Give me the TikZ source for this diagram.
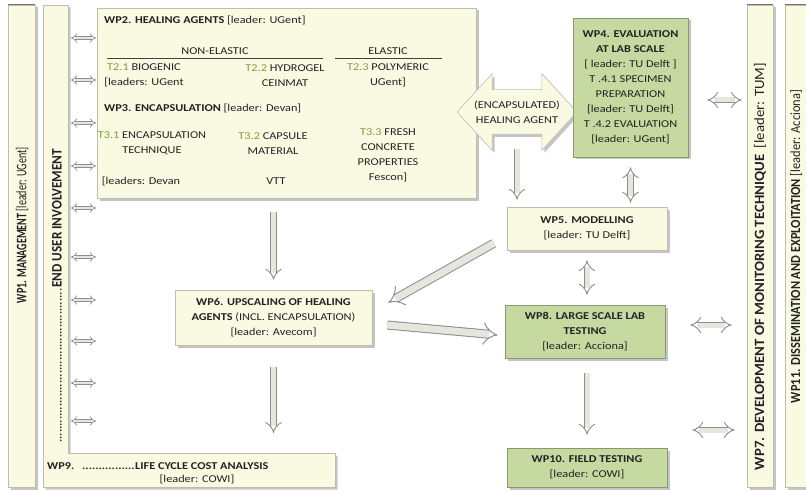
\documentclass[tikz,border=0pt]{standalone}
\usepackage{fontspec}
\usepackage{graphicx}
\setmainfont{Carlito}[FakeStretch=1.17]
\usetikzlibrary{arrows.meta,shapes.arrows,shadows}
\definecolor{cream}{HTML}{FAFAE3}
\definecolor{lgreen}{HTML}{C6D9A0}
\definecolor{tgreen}{HTML}{7E9E43}
\definecolor{boxedge}{HTML}{BDBDB0}
\definecolor{arredge}{HTML}{8E8E8A}
\definecolor{arrfill}{HTML}{E6E6DF}
\definecolor{txt}{HTML}{222222}
\begin{document}
\begin{tikzpicture}[x=1pt,y=-1pt,
  every node/.style={text=txt, font=\fontsize{10.5}{15}\selectfont},
  shad/.style={drop shadow={shadow xshift=2.5pt,shadow yshift=-2.5pt,fill=black!45}},
  box/.style={draw=boxedge, fill=cream, line width=0.6pt, shad, align=center, inner sep=0pt},
  gbox/.style={box, fill=lgreen, draw=lgreen!70!black},
  bar/.style={draw=boxedge, fill=cream, line width=0.6pt, shad},
  vlab/.style={rotate=90, inner sep=0pt},
  col/.style={align=center, inner sep=0pt},
  fat/.style={draw=arredge, double=arrfill, line width=0.9pt, double distance=5pt, -{Implies}},
  fatboth/.style={fat, {Implies}-{Implies}},
  thin/.style={draw=arredge, double=arrfill, line width=0.7pt, double distance=2.5pt, {Implies}-{Implies}},
  wide/.style={draw=arredge, double=arrfill, line width=1pt, double distance=7pt, -{Implies}},
]
\useasboundingbox (0,0) rectangle (806,492);

% ---- vertical bars ----
\node[bar, minimum width=27, minimum height=482, inner sep=0pt] (wp1) at (21.5,246) {};
\draw[line width=1.6pt, black!55] (wp1.north west) -- (wp1.north east);
\node[vlab] (wp1t) at (22,225) {\resizebox{156pt}{10.5pt}{\textbf{WP1. MANAGEMENT} [leader: UGent]}};

\path[bar] (43,5) -- (68,5) -- (68,453) -- (335,453) -- (335,487) -- (43,487) -- cycle;
\coordinate (wp9top) at (189,453);
\node[vlab, anchor=south west] (eui) at (62,443) {\hbox to 155pt{\leaders\hbox{\bfseries.}\hfill}\resizebox{139pt}{9.5pt}{\textbf{END USER INVOLVEMENT}}};
\node[anchor=west, inner sep=0pt] (wp9a) at (47,466) {\textbf{WP9.}};
\node[anchor=west, inner sep=0pt] (wp9b) at (82,466) {\hbox to 53pt{\leaders\hbox{\bfseries.}\hfill}\textbf{LIFE CYCLE COST ANALYSIS}};
\node[inner sep=0pt] (wp9c) at (197,479) {[leader: COWI]};

\node[bar, minimum width=26, minimum height=482, inner sep=0pt] (wp7) at (760,246) {};
\draw[line width=1.6pt, black!55] (wp7.north west) -- (wp7.north east);
\node[vlab] (wp7t) at (760,266.5) {\resizebox{407pt}{10.2pt}{\textbf{WP7. DEVELOPMENT OF MONITORING TECHNIQUE}\ \ [leader: TUM]}};

\node[bar, minimum width=21, minimum height=482, inner sep=0pt] (wp11) at (795.5,246) {};
\draw[line width=1.6pt, black!55] (wp11.north west) -- (wp11.north east);
\node[vlab] (wp11t) at (796,246.5) {\resizebox{313pt}{10pt}{\textbf{WP11. DISSEMINATION AND EXPLOITATION} [leader: Acciona]}};

% ---- WP2 / WP3 box ----
\node[box, minimum width=379, minimum height=190] (wp23) at (286.5,103) {};
\node[anchor=west, inner sep=0pt] (wp2t) at (104,20) {\textbf{WP2. HEALING AGENTS} [leader: UGent]};
\node[inner sep=0pt] (nel) at (215,51) {NON-ELASTIC};
\node[inner sep=0pt] (el) at (388,51) {ELASTIC};
\draw[black!75, line width=0.8pt] (107,58) -- (323,58);
\draw[black!75, line width=0.8pt] (335,58) -- (442,58);
\node[col] (t21) at (144,75.5) {\textcolor{tgreen}{T2.1} BIOGENIC\\{[}leaders: UGent};
\node[col] (t22) at (285,75.5) {\textcolor{tgreen}{T2.2} HYDROGEL\\CEINMAT};
\node[col] (t23) at (388,75.5) {\textcolor{tgreen}{T2.3} POLYMERIC\\UGent]};
\node[anchor=west, inner sep=0pt] (wp3t) at (104,108) {\textbf{WP3. ENCAPSULATION} [leader: Devan]};
\node[col] (t31) at (152,143.5) {\textcolor{tgreen}{T3.1} ENCAPSULATION\\TECHNIQUE};
\node[inner sep=0pt] (t31l) at (141,181) {[leaders: Devan};
\node[col] (t32) at (273,143.5) {\textcolor{tgreen}{T3.2} CAPSULE\\MATERIAL};
\node[inner sep=0pt] (t32l) at (276,181) {VTT};
\node[col] (t33) at (388,155) {\textcolor{tgreen}{T3.3} FRESH\\CONCRETE\\PROPERTIES\\Fescon]};

% ---- encapsulated healing agent arrow ----
\node[double arrow, draw=boxedge, fill=cream, line width=0.6pt, shad,
      double arrow head extend=16pt, double arrow tip angle=95,
      minimum height=120, inner xsep=0pt, inner ysep=22pt] (enc) at (517,112) {};
\node[col] (enct) at (517,112) {(ENCAPSULATED)\\HEALING AGENT};

% ---- green / cream boxes ----
\node[gbox, minimum width=115, minimum height=139] (wp4) at (630.5,87.5)
 {\textbf{WP4. EVALUATION}\\\textbf{AT LAB SCALE}\\{[} leader: TU Delft ]\\T .4.1 SPECIMEN\\PREPARATION\\{[}leader: TU Delft]\\T .4.2 EVALUATION\\{[}leader: UGent]};
\node[box, minimum width=160, minimum height=43] (wp5) at (587,228.5)
 {\textbf{WP5. MODELLING}\\{[}leader: TU Delft]};
\node[box, minimum width=197, minimum height=55] (wp6) at (273.5,317.5)
 {\textbf{WP6. UPSCALING OF HEALING}\\\textbf{AGENTS} (INCL. ENCAPSULATION)\\{[}leader: Avecom]};
\node[gbox, minimum width=160, minimum height=53] (wp8) at (585,331.5)
 {\textbf{WP8. LARGE SCALE LAB}\\\textbf{TESTING}\\{[}leader: Acciona]};
\node[gbox, minimum width=160, minimum height=39] (wp10) at (587,467.5)
 {\textbf{WP10. FIELD TESTING}\\{[}leader: COWI]};

% ---- connectors ----
\draw[fat, shorten <=14pt, shorten >=10pt] (wp6.north |- wp23.south) -- (wp6.north);
\draw[fat, shorten <=22pt, shorten >=20pt] (wp6.south) -- (wp6.south |- wp9top);
\draw[fat, shorten <=37pt, shorten >=7pt] (enc.center) -- (enc.center |- wp5.north);
\draw[fatboth, shorten <=10pt, shorten >=4pt] (wp4.south) -- (wp4.south |- wp5.north);
\draw[fatboth, shorten <=10pt, shorten >=10pt] (wp5.south) -- (wp5.south |- wp8.north);
\draw[fat, shorten <=15pt, shorten >=13pt] (wp8.south -| wp10.north) -- (wp10.north);
\draw[wide] ([xshift=-13pt,yshift=7pt]wp5.south west) -- ([xshift=16pt,yshift=-13pt]wp6.north east);
\draw[wide] ([xshift=15pt,yshift=-7.5pt]wp6.east) -- ([xshift=-7pt,yshift=-3.5pt]wp8.west);
\draw[fatboth, shorten <=19pt, shorten >=5pt] (wp4.east |- 0,100) -- (wp7.west |- 0,100);
\draw[fatboth, shorten <=25pt, shorten >=15pt] (wp8.east |- 0,325) -- (wp7.west |- 0,325);
\draw[fatboth, shorten <=25pt, shorten >=12pt] (wp10.east |- 0,430) -- (wp7.west |- 0,430);

\foreach \yy [count=\i] in {38,80,123,166,208,257,300,341,383,421}{
  \coordinate (la\i) at (71,\yy);
  \coordinate (lb\i) at (96,\yy);
  \draw[thin] (la\i) -- (lb\i);
}
\end{tikzpicture}
\end{document}
